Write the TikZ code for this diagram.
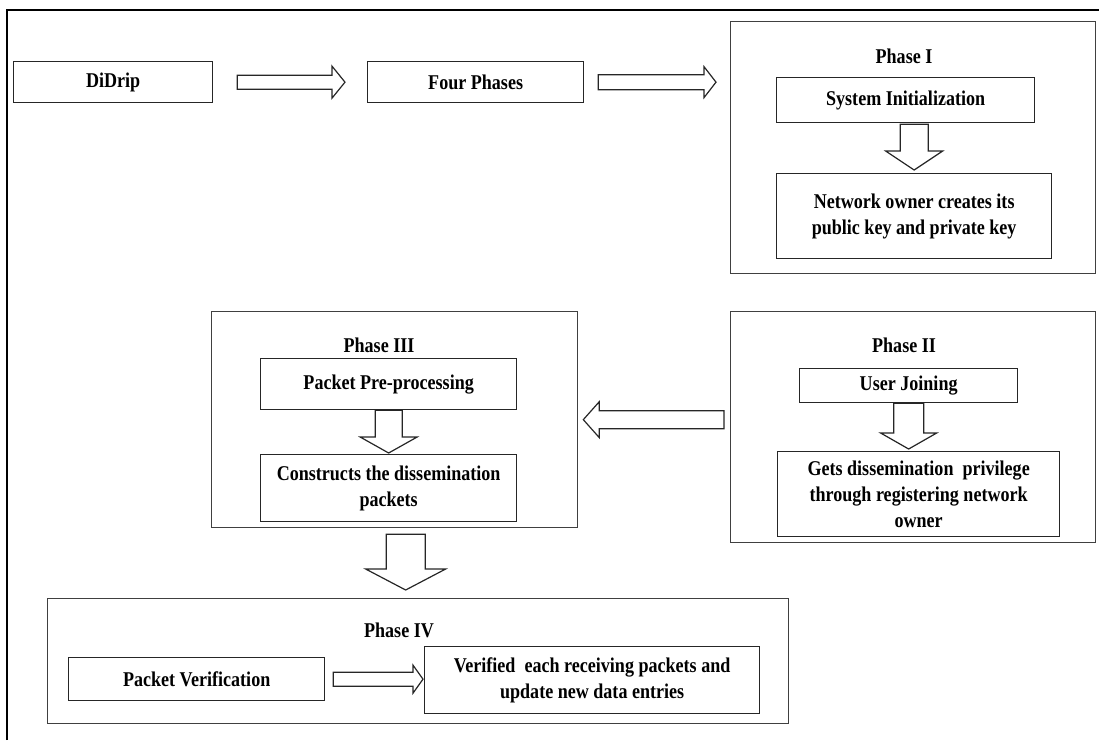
\documentclass[tikz,border=0pt]{standalone}
\usepackage{fontspec}
\setmainfont{Liberation Serif}[FakeStretch=0.86]
\usetikzlibrary{calc}

\tikzset{
  box/.style={draw=black!85, line width=1.3pt, fill=white, inner sep=2pt, align=center,
    anchor=north west, font=\bfseries\fontsize{21}{26}\selectfont},
  frame/.style={draw=black!75, line width=1.3pt, anchor=north west, inner sep=0pt},
  title/.style={font=\bfseries\fontsize{21}{26}\selectfont, inner sep=0pt},
  % hollow block arrow: shaft half, head half, head length, gap at start, gap at end
  fat/.style n args={5}{draw=black!85, line width=1.2pt, fill=white, line join=miter,
    to path={
      ($(\tikztostart)!#4!(\tikztotarget)!#1!90:(\tikztotarget)$)
      -- ($(\tikztotarget)!#5+#3!(\tikztostart)!#1!-90:(\tikztostart)$)
      -- ($(\tikztotarget)!#5+#3!(\tikztostart)!#2!-90:(\tikztostart)$)
      -- ($(\tikztotarget)!#5!(\tikztostart)$)
      -- ($(\tikztotarget)!#5+#3!(\tikztostart)!#2!90:(\tikztostart)$)
      -- ($(\tikztotarget)!#5+#3!(\tikztostart)!#1!90:(\tikztostart)$)
      -- ($(\tikztostart)!#4!(\tikztotarget)!#1!-90:(\tikztotarget)$)
      -- cycle}}
}

\begin{document}
\begin{tikzpicture}[x=1pt,y=-1pt]
  \useasboundingbox (0,0) rectangle (1099,740);
  \draw[line width=1.8pt] (7,740) -- (7,10) -- (1099,10);

  % top row
  \node[box, minimum width=199pt, minimum height=41pt] (didrip) at (13,61) {DiDrip};
  \node[box, minimum width=216pt, minimum height=41pt] (four) at (367,61) {Four Phases};

  % phase I
  \node[frame, minimum width=365pt, minimum height=252pt] (ph1) at (730,21) {};
  \node[title] (ph1t) at (904,56) {Phase I};
  \node[box, minimum width=258pt, minimum height=45pt] (init) at (776,77) {System Initialization};
  \node[box, minimum width=275pt, minimum height=85pt] (owner) at (776,173)
    {Network owner creates its\\public key and private key};

  % phase III
  \node[frame, minimum width=366pt, minimum height=216pt] (ph3) at (211,311) {};
  \node[title] (ph3t) at (379,345) {Phase III};
  \node[box, minimum width=256pt, minimum height=51pt] (prep) at (260,358) {Packet Pre-processing};
  \node[box, minimum width=256pt, minimum height=67pt] (cons) at (260,454)
    {Constructs the dissemination\\packets};

  % phase II
  \node[frame, minimum width=365pt, minimum height=231pt] (ph2) at (730,311) {};
  \node[title] (ph2t) at (904,345) {Phase II};
  \node[box, minimum width=218pt, minimum height=34pt] (join) at (799,368) {User Joining};
  \node[box, minimum width=282pt, minimum height=85pt] (gets) at (777,451)
    {Gets dissemination~ privilege\\through registering network\\owner};

  % phase IV
  \node[frame, minimum width=741pt, minimum height=125pt] (ph4) at (47,598) {};
  \node[title] (ph4t) at (399,630) {Phase IV};
  \node[box, minimum width=256pt, minimum height=43pt] (verif) at (68,657) {Packet Verification};
  \node[box, minimum width=335pt, minimum height=67pt] (upd) at (424,646)
    {Verified~ each receiving packets and\\update new data entries};

  % arrows
  \coordinate (p1in) at (ph1.west |- four.east);
  \coordinate (s1) at (owner.north |- init.south);
  \coordinate (t2) at (join.south |- gets.north);
  \coordinate (p2out) at (ph2.west |- ph3.east);
  \coordinate (s3) at ($(ph3.south)+(11,0)$);
  \coordinate (t3) at (s3 |- ph4.north);
  \coordinate (t4) at (verif.east -| upd.west);
  \draw[fat={7pt}{16pt}{13pt}{24pt}{22pt}] (didrip.east) to (four.west);
  \draw[fat={7.5pt}{15.5pt}{12pt}{14pt}{14pt}] (four.east) to (p1in);
  \draw[fat={14pt}{28.5pt}{19pt}{1pt}{3pt}] (s1) to (owner.north);
  \draw[fat={13.5pt}{28.5pt}{16pt}{0pt}{1pt}] (prep.south) to (cons.north);
  \draw[fat={15pt}{28pt}{16pt}{0pt}{2pt}] (join.south) to (t2);
  \draw[fat={9pt}{18pt}{16pt}{6pt}{5pt}] (p2out) to (ph3.east);
  \draw[fat={19.5pt}{40pt}{21pt}{6pt}{8pt}] (s3) to (t3);
  \draw[fat={7pt}{14pt}{10pt}{8pt}{1pt}] (verif.east) to (t4);
\end{tikzpicture}
\end{document}
